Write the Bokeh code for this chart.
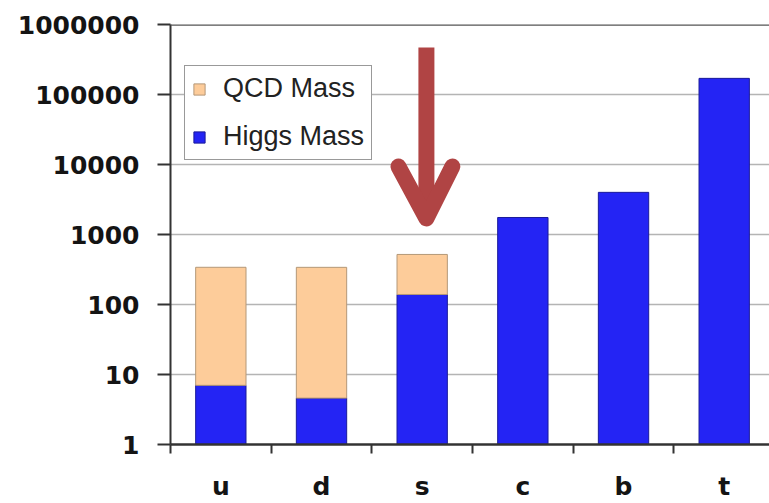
from bokeh.plotting import figure
from bokeh.models import (Range1d, FixedTicker, Legend, LegendItem, Span,
                          ColumnDataSource)
from bokeh.embed import file_html
from bokeh.resources import INLINE

# Quark masses (MeV): Higgs-generated part and the extra QCD binding part
quarks = ["u", "d", "s", "c", "b", "t"]
higgs_mass = [7, 4.6, 139, 1750, 4000, 170000]
qcd_mass = [333, 335, 380, 0, 0, 0]
y_ticks = [1, 10, 100, 1000, 10000, 100000, 1000000]

centers = [i + 0.5 for i in range(len(quarks))]
higgs_src = ColumnDataSource(dict(x=centers, bottom=[1] * len(quarks), top=higgs_mass))
qx = [c for c, q in zip(centers, qcd_mass) if q > 0]
qb = [h for h, q in zip(higgs_mass, qcd_mass) if q > 0]
qt = [h + q for h, q in zip(higgs_mass, qcd_mass) if q > 0]
qcd_src = ColumnDataSource(dict(x=qx, bottom=qb, top=qt))

p = figure(width=769, height=503, y_axis_type="log",
           x_range=Range1d(0, 5.95), y_range=Range1d(1, 1e6),
           output_backend="svg", toolbar_location=None,
           min_border_left=170, min_border_right=0,
           min_border_top=24, min_border_bottom=59)
p.outline_line_color = None
p.background_fill_color = "white"

blue = "#2424f4"
peach = "#fdcc9a"
hr = p.vbar(x="x", bottom="bottom", top="top", width=0.5, source=higgs_src,
            fill_color=blue, line_color="#1a1a9a", line_width=1)
qr = p.vbar(x="x", bottom="bottom", top="top", width=0.5, source=qcd_src,
            fill_color=peach, line_color="#b49878", line_width=1)

# grid
p.xgrid.grid_line_color = None
p.ygrid.ticker = FixedTicker(ticks=y_ticks)
p.ygrid.grid_line_color = "#b4b4b4"
p.ygrid.grid_line_width = 1.5
p.add_layout(Span(location=1e6, dimension="width", line_color="#555555",
                  line_width=2.5))

# y axis
ya = p.yaxis[0]
ya.ticker = FixedTicker(ticks=y_ticks)
ya.major_label_overrides = {t: str(t) for t in y_ticks}
ya.axis_line_color = "#333333"
ya.axis_line_width = 2
ya.major_tick_line_color = "#333333"
ya.major_tick_line_width = 2
ya.major_tick_out = 13
ya.major_tick_in = 0
ya.minor_tick_line_color = None
ya.major_label_standoff = 18
ya.major_label_text_font = "DejaVu Sans"
ya.major_label_text_font_style = "bold"
ya.major_label_text_font_size = "25px"
ya.major_label_text_color = "#141414"

# x axis: labels at bar centres, small ticks at category boundaries
xa = p.xaxis[0]
xa.ticker = FixedTicker(ticks=centers, minor_ticks=list(range(len(quarks) + 1)))
xa.major_label_overrides = {c: q for c, q in zip(centers, quarks)}
xa.axis_line_color = "#333333"
xa.axis_line_width = 2.5
xa.major_tick_line_color = None
xa.major_tick_out = 0
xa.major_tick_in = 0
xa.minor_tick_line_color = "#333333"
xa.minor_tick_line_width = 2
xa.minor_tick_out = 9
xa.minor_tick_in = 0
xa.major_label_standoff = 18
xa.major_label_text_font = "DejaVu Sans"
xa.major_label_text_font_style = "bold"
xa.major_label_text_font_size = "25px"
xa.major_label_text_color = "#141414"

# red arrow pointing down onto the strange quark
arrow_red = "#b04444"
p.segment(x0=[2.542], y0=[469000], x1=[2.542], y1=[1700],
          line_color=arrow_red, line_width=16, line_cap="butt")
p.line(x=[2.264, 2.542, 2.80], y=[9360, 1700, 9360], line_color=arrow_red,
       line_width=16, line_cap="round", line_join="round")

legend = Legend(items=[LegendItem(label="QCD Mass", renderers=[qr]),
                       LegendItem(label="Higgs Mass", renderers=[hr])],
                location=(14, 284), orientation="vertical")
legend.padding = 7
legend.spacing = 17
legend.label_height = 26
legend.glyph_height = 14
legend.glyph_width = 14
legend.label_standoff = 17
legend.label_text_font = "Liberation Sans"
legend.label_text_font_size = "27px"
legend.label_text_color = "#222222"
legend.border_line_color = "#333333"
legend.border_line_width = 1.5
legend.background_fill_color = "white"
legend.background_fill_alpha = 1
legend.margin = 0
p.add_layout(legend, "center")

open("out.html", "w").write(file_html(p, INLINE))
